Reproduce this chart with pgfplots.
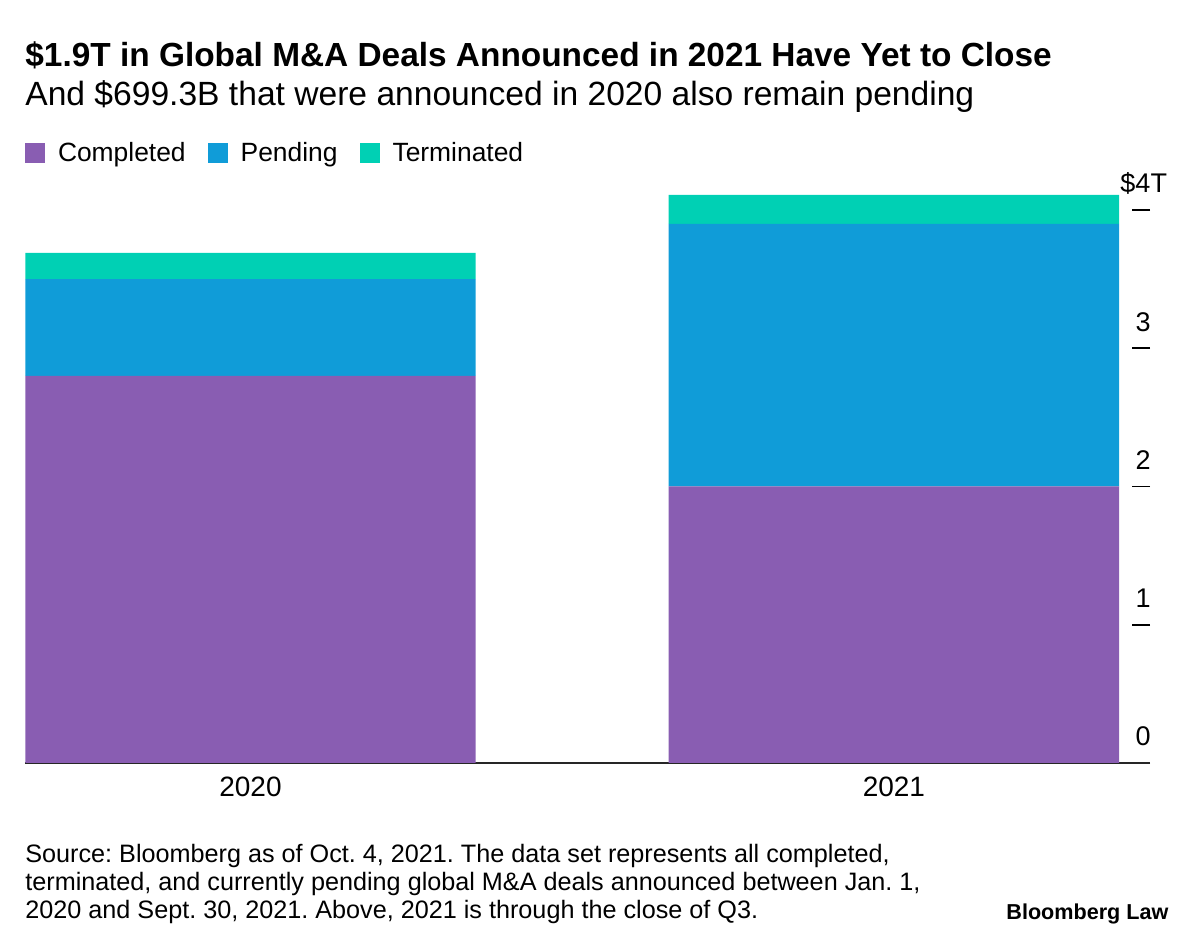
\documentclass[border=0pt]{standalone}
\usepackage{pgfplots}
\pgfplotsset{compat=1.18}
\usepackage{fontspec}
\setmainfont{Liberation Sans}
\definecolor{completed}{RGB}{137,93,178}
\definecolor{pending}{RGB}{16,156,216}
\definecolor{terminated}{RGB}{0,208,180}
\frenchspacing

\begin{document}
\begin{tikzpicture}
\path[use as bounding box] (0,0) rectangle (600pt,473pt);
% titles
\node[anchor=base west, inner sep=0, font=\fontsize{16.7}{20}\selectfont\bfseries]
  at (12.5pt,439.6pt) {\$1.9T in Global M\&A Deals Announced in 2021 Have Yet to Close};
\node[anchor=base west, inner sep=0, font=\fontsize{16.8}{20}\selectfont]
  at (12.5pt,420pt) {And \$699.3B that were announced in 2020 also remain pending};

\begin{axis}[
  at={(12.5pt,91.5pt)}, anchor=south west, scale only axis,
  width=562.5pt, height=290.33pt,
  ybar stacked, bar width=0.7,
  xmin=-0.3504, xmax=1.398, ymin=0, ymax=4.2,
  axis x line*=bottom, axis y line*=right,
  y axis line style={draw=none},
  x axis line style={line width=0.9pt, black!85},
  xtick={0,1}, xticklabels={2020,2021}, xtick style={draw=none},
  ytick={0,1,2,3,4}, yticklabels={0,1,2,3,\llap{\$}4\rlap{T}},
  tick align=inside, major tick length=9pt,
  ytick style={line width=0.9pt, black},
  yticklabel style={anchor=base, font=\fontsize{13.5}{16}\selectfont, xshift=-3.5pt, yshift=8.5pt, inner sep=0},
  xticklabel style={anchor=base, font=\fontsize{14}{16}\selectfont, yshift=-17pt, inner sep=0},
  legend columns=-1,
  legend style={at={(axis description cs:0,1)}, anchor=south west, yshift=7pt,
    draw=none, fill=none, inner sep=0pt, outer sep=0pt,
    font=\fontsize{13.2}{16}\selectfont,
    nodes={inner xsep=0pt},
    /tikz/every odd column/.append style={column sep=6.5pt},
    /tikz/every even column/.append style={column sep=11pt}},
  legend image code/.code={\fill[#1] (0pt,-5pt) rectangle (10pt,5pt);},
]
\addplot[fill=completed, draw=none] coordinates {(0,2.80) (1,2.00)};
\addplot[fill=pending, draw=none] coordinates {(0,0.70) (1,1.90)};
\addplot[fill=terminated, draw=none] coordinates {(0,0.19) (1,0.21)};
\legend{Completed,Pending,Terminated}
\end{axis}

% footer
\node[anchor=base west, inner sep=0, font=\fontsize{12.6}{14}\selectfont]
  at (12.5pt,41.65pt) {Source: Bloomberg as of Oct. 4, 2021. The data set represents all completed,};
\node[anchor=base west, inner sep=0, font=\fontsize{12.6}{14}\selectfont]
  at (12.5pt,27.8pt) {terminated, and currently pending global M\&A deals announced between Jan. 1,};
\node[anchor=base west, inner sep=0, font=\fontsize{12.6}{14}\selectfont]
  at (12.5pt,13.85pt) {2020 and Sept. 30, 2021. Above, 2021 is through the close of Q3.};
\node[anchor=base west, inner sep=0, font=\fontsize{10.8}{13}\selectfont\bfseries]
  at (503pt,13pt) {Bloomberg Law};
\end{tikzpicture}
\end{document}
